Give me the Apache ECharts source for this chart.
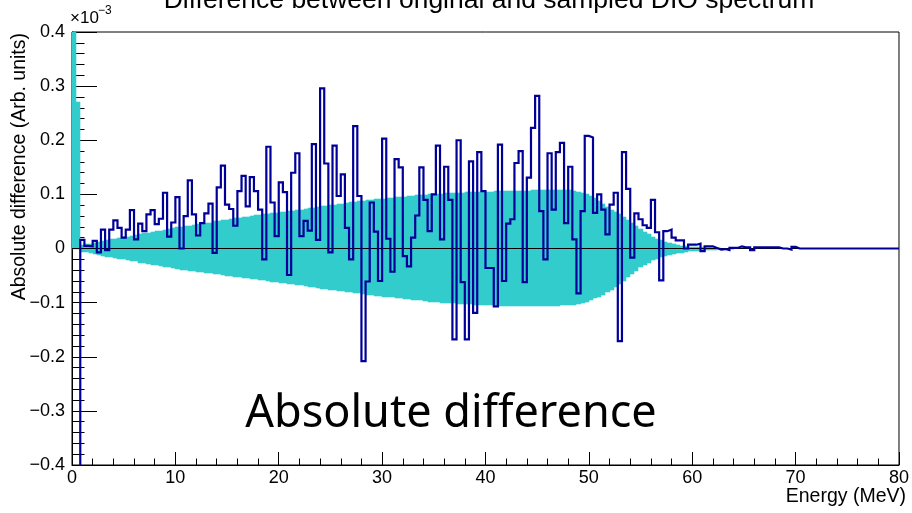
<!DOCTYPE html>
<html>
<head>
<meta charset="utf-8">
<script src="https://cdn.jsdelivr.net/npm/echarts@6/dist/echarts.min.js"></script>
<style>
  html, body { margin: 0; padding: 0; background: #ffffff; }
  #chart { width: 912px; height: 513px; }
</style>
</head>
<body>
<div id="chart"></div>
<script>
// Histogram binning (MeV)
const binWidth = 0.4;
const xRange = [0, 80];
const yRange = [-0.4, 0.4];

// Absolute difference per bin, in units of 1e-3
const diffValues = [
  -1.5, -1.5, 0.016, 0.005, 0.004, 0.014, -0.007, 0.035, -0.003, 0.035,
  0.052, 0.038, 0.02, 0.035, 0.071, 0.017, 0.046, 0.032, 0.063, 0.071,
  0.045, 0.055, 0.103, 0.022, 0.048, 0.095, 0.0, 0.06, 0.126, 0.063,
  0.024, 0.047, 0.065, 0.083, -0.008, 0.113, 0.153, 0.081, 0.073, 0.042,
  0.106, 0.134, 0.078, 0.132, 0.106, 0.072, -0.02, 0.188, 0.085, 0.023,
  0.122, 0.104, -0.049, 0.14, 0.176, 0.023, 0.051, 0.033, 0.193, 0.016,
  0.296, 0.157, -0.007, 0.19, 0.097, 0.137, 0.038, -0.02, 0.226, 0.097,
  -0.208, -0.061, 0.085, 0.031, -0.06, 0.203, 0.018, -0.043, 0.165, 0.15,
  -0.014, -0.033, 0.02, 0.061, 0.15, 0.09, 0.032, 0.1, 0.19, 0.017,
  0.151, 0.09, -0.168, 0.2, -0.062, -0.168, 0.161, -0.119, 0.178, 0.106,
  -0.036, -0.036, -0.107, 0.192, -0.06, 0.046, 0.054, 0.158, 0.18, -0.062,
  0.131, 0.223, 0.282, 0.069, -0.02, 0.176, 0.072, 0.178, 0.195, 0.047,
  0.151, 0.017, -0.083, 0.069, 0.208, 0.205, 0.066, 0.1, 0.072, 0.026,
  0.081, 0.103, -0.171, 0.178, 0.11, -0.017, 0.065, 0.054, 0.043, 0.038,
  0.09, 0.03, -0.059, 0.032, 0.035, 0.02, 0.015, 0.015, 0.0, 0.007,
  0.007, 0.009, -0.005, 0.004, 0.004, 0.001, -0.002, -0.001, -0.003, 0.001,
  0.001, 0.004, 0.002, 0.002, -0.003, 0.002, 0.002, 0.002, 0.002, 0.002,
  0.002, 0, 0, -0.002, 0.003, 0, 0, 0, 0, 0,
  0, 0, 0, 0, 0, 0, 0, 0, 0, 0,
  0, 0, 0, 0, 0, 0, 0, 0, 0, 0
];

// Statistical uncertainty band per bin (upper and lower edge), units of 1e-3
const bandUpper = [
  0.6, 0.27, 0.006, 0.008, 0.009, 0.011, 0.012, 0.014, 0.015, 0.017,
  0.018, 0.02, 0.021, 0.022, 0.024, 0.025, 0.027, 0.028, 0.029, 0.031,
  0.032, 0.033, 0.035, 0.036, 0.037, 0.039, 0.04, 0.041, 0.042, 0.043,
  0.045, 0.046, 0.047, 0.048, 0.05, 0.051, 0.052, 0.053, 0.055, 0.056,
  0.057, 0.058, 0.059, 0.06, 0.061, 0.062, 0.063, 0.064, 0.065, 0.066,
  0.067, 0.068, 0.069, 0.07, 0.071, 0.072, 0.073, 0.074, 0.075, 0.076,
  0.078, 0.079, 0.08, 0.081, 0.082, 0.083, 0.084, 0.085, 0.086, 0.087,
  0.088, 0.089, 0.09, 0.091, 0.092, 0.092, 0.093, 0.094, 0.095, 0.095,
  0.096, 0.097, 0.097, 0.098, 0.099, 0.099, 0.1, 0.1, 0.101, 0.101,
  0.102, 0.102, 0.103, 0.103, 0.103, 0.104, 0.104, 0.104, 0.105, 0.105,
  0.105, 0.105, 0.106, 0.106, 0.106, 0.106, 0.107, 0.107, 0.107, 0.107,
  0.107, 0.108, 0.108, 0.108, 0.108, 0.108, 0.109, 0.108, 0.108, 0.108,
  0.108, 0.107, 0.105, 0.103, 0.1, 0.097, 0.093, 0.088, 0.083, 0.077,
  0.072, 0.068, 0.063, 0.058, 0.052, 0.047, 0.041, 0.036, 0.031, 0.026,
  0.022, 0.018, 0.015, 0.012, 0.01, 0.008, 0.006, 0.005, 0.004, 0.003,
  0.003, 0.002, 0.002, 0.001, 0.001, 0.001, 0.001, 0, 0, 0
];
const bandLower = [
  0, 0, -0.006, -0.007, -0.009, -0.01, -0.012, -0.013, -0.015, -0.016,
  -0.017, -0.019, -0.02, -0.021, -0.023, -0.024, -0.026, -0.027, -0.028, -0.03,
  -0.031, -0.032, -0.034, -0.035, -0.036, -0.038, -0.039, -0.04, -0.041, -0.042,
  -0.043, -0.044, -0.045, -0.046, -0.047, -0.048, -0.049, -0.05, -0.051, -0.052,
  -0.053, -0.054, -0.055, -0.056, -0.057, -0.058, -0.059, -0.06, -0.061, -0.062,
  -0.063, -0.064, -0.065, -0.066, -0.067, -0.068, -0.07, -0.071, -0.072, -0.073,
  -0.074, -0.075, -0.076, -0.077, -0.078, -0.079, -0.08, -0.081, -0.082, -0.083,
  -0.084, -0.085, -0.086, -0.087, -0.088, -0.089, -0.09, -0.09, -0.091, -0.092,
  -0.093, -0.094, -0.095, -0.095, -0.096, -0.097, -0.098, -0.098, -0.099, -0.1,
  -0.1, -0.101, -0.101, -0.102, -0.102, -0.103, -0.103, -0.104, -0.104, -0.104,
  -0.105, -0.105, -0.105, -0.106, -0.106, -0.106, -0.106, -0.107, -0.107, -0.107,
  -0.107, -0.107, -0.107, -0.107, -0.107, -0.107, -0.106, -0.106, -0.105, -0.105,
  -0.105, -0.104, -0.102, -0.1, -0.098, -0.095, -0.092, -0.089, -0.085, -0.081,
  -0.077, -0.072, -0.066, -0.06, -0.053, -0.047, -0.041, -0.035, -0.03, -0.026,
  -0.022, -0.019, -0.016, -0.014, -0.012, -0.01, -0.009, -0.008, -0.006, -0.005,
  -0.005, -0.004, -0.003, -0.003, -0.002, -0.002, -0.001, -0.001, -0.001, 0
];

const titleText = 'Difference between original and sampled DIO spectrum';
const yTitle = 'Absolute difference (Arb. units)';
const xTitle = 'Energy (MeV)';
const overlayText = 'Absolute difference';

// Step outline: each bin contributes its left and right edge at the bin value
function stepSeries(values) {
  const pts = [];
  values.forEach(function (v, i) {
    pts.push([i * binWidth, v]);
    pts.push([(i + 1) * binWidth, v]);
  });
  return pts;
}
const stepPoints = stepSeries(diffValues);

const labelFont = 'Liberation Sans, Arial, Helvetica, sans-serif';
const MINUS = '\u2212';
const BAND_COLOR = '#33cccc';

function formatY(v) {
  if (Math.abs(v) < 1e-9) return '0';
  return (v < 0 ? MINUS : '') + Math.abs(v).toFixed(1);
}

// Band drawn as one stepped polygon on whole pixels: upper edge left to right,
// then lower edge right to left.
function snap(p) { return [Math.round(p[0]), Math.round(p[1])]; }
function renderBand(params, api) {
  if (params.dataIndex !== 0) return null;
  const pts = [];
  for (let i = 0; i < bandUpper.length; i++) {
    pts.push(snap(api.coord([i * binWidth, bandUpper[i]])));
    pts.push(snap(api.coord([(i + 1) * binWidth, bandUpper[i]])));
  }
  for (let i = bandLower.length - 1; i >= 0; i--) {
    pts.push(snap(api.coord([(i + 1) * binWidth, bandLower[i]])));
    pts.push(snap(api.coord([i * binWidth, bandLower[i]])));
  }
  return {
    type: 'polygon',
    shape: { points: pts },
    style: { fill: BAND_COLOR, stroke: BAND_COLOR, lineWidth: 0.6 }
  };
}

const chart = echarts.init(document.getElementById('chart'), null, { renderer: 'canvas' });

chart.setOption({
  animation: false,
  backgroundColor: '#ffffff',
  grid: {
    left: 72, right: 6, top: 32, bottom: 48,
    show: true, borderColor: '#000000', borderWidth: 1, backgroundColor: 'transparent'
  },
  xAxis: {
    type: 'value',
    min: xRange[0], max: xRange[1], interval: 10,
    axisLine: { show: true, onZero: false, lineStyle: { color: '#000000', width: 1 } },
    axisTick: { show: true, inside: true, length: 13, lineStyle: { color: '#000000', width: 1 } },
    minorTick: { show: true, splitNumber: 5, length: 6.5, lineStyle: { color: '#000000', width: 1 } },
    splitLine: { show: false },
    axisLabel: { color: '#000000', fontFamily: labelFont, fontSize: 18, margin: 4 }
  },
  yAxis: {
    type: 'value',
    min: yRange[0], max: yRange[1], interval: 0.1,
    axisLine: { show: true, onZero: false, lineStyle: { color: '#000000', width: 1 } },
    axisTick: { show: true, inside: true, length: 25, lineStyle: { color: '#000000', width: 1 } },
    minorTick: { show: true, splitNumber: 5, length: 12.5, lineStyle: { color: '#000000', width: 1 } },
    splitLine: { show: false },
    axisLabel: { color: '#000000', fontFamily: labelFont, fontSize: 18, margin: 7, formatter: formatY }
  },
  series: [
    {
      name: 'band',
      type: 'custom',
      clip: true,
      silent: true,
      data: [[0, 0]],
      renderItem: renderBand,
      z: 1
    },
    {
      name: 'zero',
      type: 'line',
      data: [[xRange[0], 0], [xRange[1], 0]],
      showSymbol: false,
      silent: true,
      lineStyle: { color: '#000000', width: 1 },
      z: 2
    },
    {
      name: 'difference',
      type: 'line',
      data: stepPoints,
      showSymbol: false,
      clip: true,
      silent: true,
      lineStyle: { color: '#000099', width: 2.2, join: 'miter' },
      z: 3
    }
  ],
  graphic: [
    {
      type: 'text', x: 489, y: 1, z: 10,
      style: { text: titleText, font: '26.5px ' + labelFont, fill: '#000000', textAlign: 'center', textVerticalAlign: 'middle' }
    },
    {
      type: 'text', x: 70, y: 18, z: 10,
      style: { text: '\u00d710', font: '17px ' + labelFont, fill: '#000000', textAlign: 'left', textVerticalAlign: 'middle' }
    },
    {
      type: 'text', x: 98, y: 11, z: 10,
      style: { text: MINUS + '3', font: '12px ' + labelFont, fill: '#000000', textAlign: 'left', textVerticalAlign: 'middle' }
    },
    {
      type: 'text', x: 20, y: 33, rotation: Math.PI / 2, z: 10,
      style: { text: yTitle, font: '19.5px ' + labelFont, fill: '#000000', textAlign: 'right', textVerticalAlign: 'middle' }
    },
    {
      type: 'text', x: 906, y: 497, z: 10,
      style: { text: xTitle, font: '19.5px ' + labelFont, fill: '#000000', textAlign: 'right', textVerticalAlign: 'middle' }
    },
    {
      type: 'text', x: 451, y: 414, z: 10,
      style: { text: overlayText, font: '45px "Noto Sans", sans-serif', fill: '#000000', textAlign: 'center', textVerticalAlign: 'middle' }
    }
  ]
});
</script>
</body>
</html>
